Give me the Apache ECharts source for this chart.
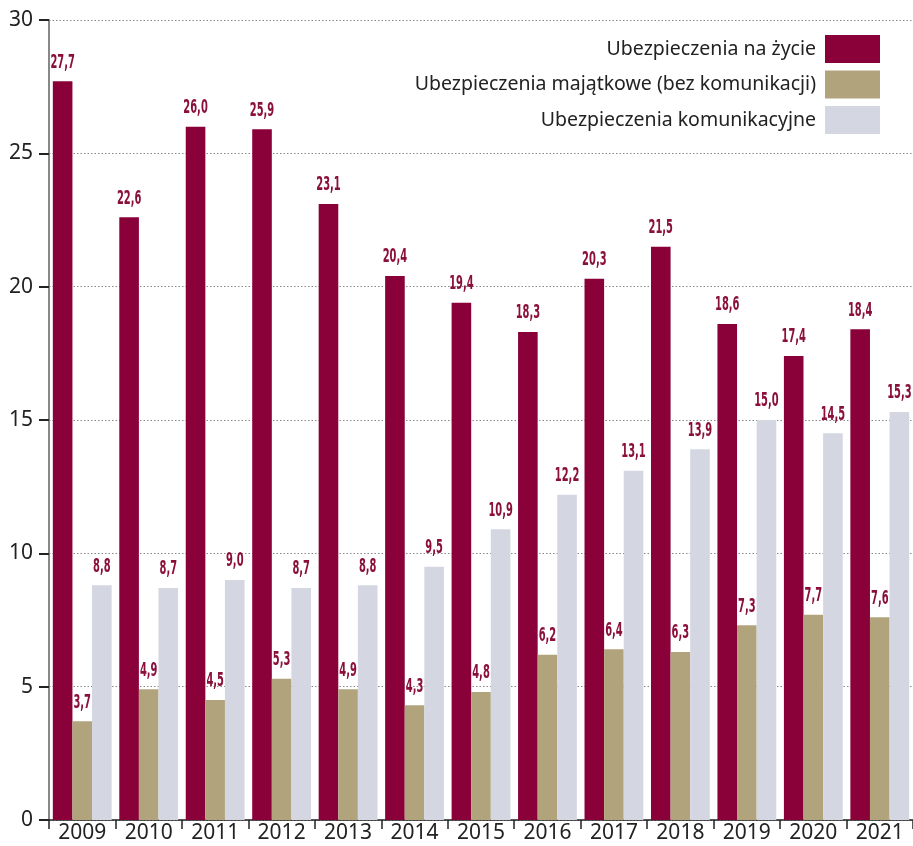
<!DOCTYPE html>
<html><head><meta charset="utf-8">
<script src="https://cdn.jsdelivr.net/npm/echarts@6/dist/echarts.min.js"></script>
<style>html,body{margin:0;padding:0;background:#fff}#c{width:913px;height:846px}</style>
</head><body><div id="c"></div>
<script>
const years = ['2009','2010','2011','2012','2013','2014','2015','2016','2017','2018','2019','2020','2021'];
const seriesNames = ['Ubezpieczenia na życie','Ubezpieczenia majątkowe (bez komunikacji)','Ubezpieczenia komunikacyjne'];
const life = [27.7,22.6,26.0,25.9,23.1,20.4,19.4,18.3,20.3,21.5,18.6,17.4,18.4];
const property = [3.7,4.9,4.5,5.3,4.9,4.3,4.8,6.2,6.4,6.3,7.3,7.7,7.6];
const motor = [8.8,8.7,9.0,8.7,8.8,9.5,10.9,12.2,13.1,13.9,15.0,14.5,15.3];
const yTicks = [0,5,10,15,20,25,30];

const colors = ['#8a0039','#b1a37c','#d4d6e1'];
const BAR_W = 19.6;
const fmt = v => v.toFixed(1).replace('.', ',');

function labelSeries(values, k) {
  return {
    type: 'custom', silent: true, z: 10,
    data: values.map((v, i) => [i, v]),
    encode: {x: 0, y: 1},
    renderItem: (params, api) => {
      const p = api.coord([api.value(0), api.value(1)]);
      return {
        type: 'text', x: p[0] + (k - 1) * BAR_W, y: p[1] - 9, scaleX: 0.55,
        style: {
          text: fmt(api.value(1)), fill: '#8a0f3a',
          fontFamily: '"DejaVu Sans Condensed", "DejaVu Sans", sans-serif',
          fontWeight: 'bold', fontSize: 20,
          align: 'center', verticalAlign: 'bottom'
        }
      };
    }
  };
}

const chart = echarts.init(document.getElementById('c'), null, {renderer:'canvas'});
chart.setOption({
  animation: false,
  textStyle: {fontFamily: '"Noto Sans", sans-serif'},
  grid: {left: 49, right: 0, top: 20, bottom: 26, containLabel: false},
  legend: {
    orient: 'vertical', right: 28, top: 30, align: 'right',
    itemWidth: 55, itemHeight: 28, itemGap: 7.5,
    icon: 'rect',
    textStyle: {fontSize: 19.5, color: '#222', fontFamily: '"Noto Sans", sans-serif', padding: [0, 4, 0, 0]},
    data: seriesNames
  },
  xAxis: {
    type: 'category', data: years,
    axisLine: {show: true, lineStyle: {color: '#222', width: 1.5}},
    axisTick: {show: true, length: 9, lineStyle: {color: '#222', width: 1.5}},
    axisLabel: {fontSize: 21, color: '#222', margin: 3}
  },
  yAxis: {
    type: 'value', min: 0, max: 30, interval: 5,
    axisLine: {show: true, lineStyle: {color: '#888', width: 2}},
    axisTick: {show: true, length: 10, lineStyle: {color: '#222', width: 2}},
    axisLabel: {fontSize: 21, color: '#222', margin: 16, formatter: v => yTicks.includes(v) ? String(v) : ''},
    splitLine: {show: true, lineStyle: {color: '#888', type: [1.5, 2], width: 1}}
  },
  series: [
    {name: seriesNames[0], type: 'bar', data: life, itemStyle: {color: colors[0]}, barWidth: BAR_W, barGap: '0%'},
    {name: seriesNames[1], type: 'bar', data: property, itemStyle: {color: colors[1]}, barWidth: BAR_W, barGap: '0%'},
    {name: seriesNames[2], type: 'bar', data: motor, itemStyle: {color: colors[2]}, barWidth: BAR_W, barGap: '0%'},
    labelSeries(life, 0),
    labelSeries(property, 1),
    labelSeries(motor, 2)
  ]
});
</script></body></html>
